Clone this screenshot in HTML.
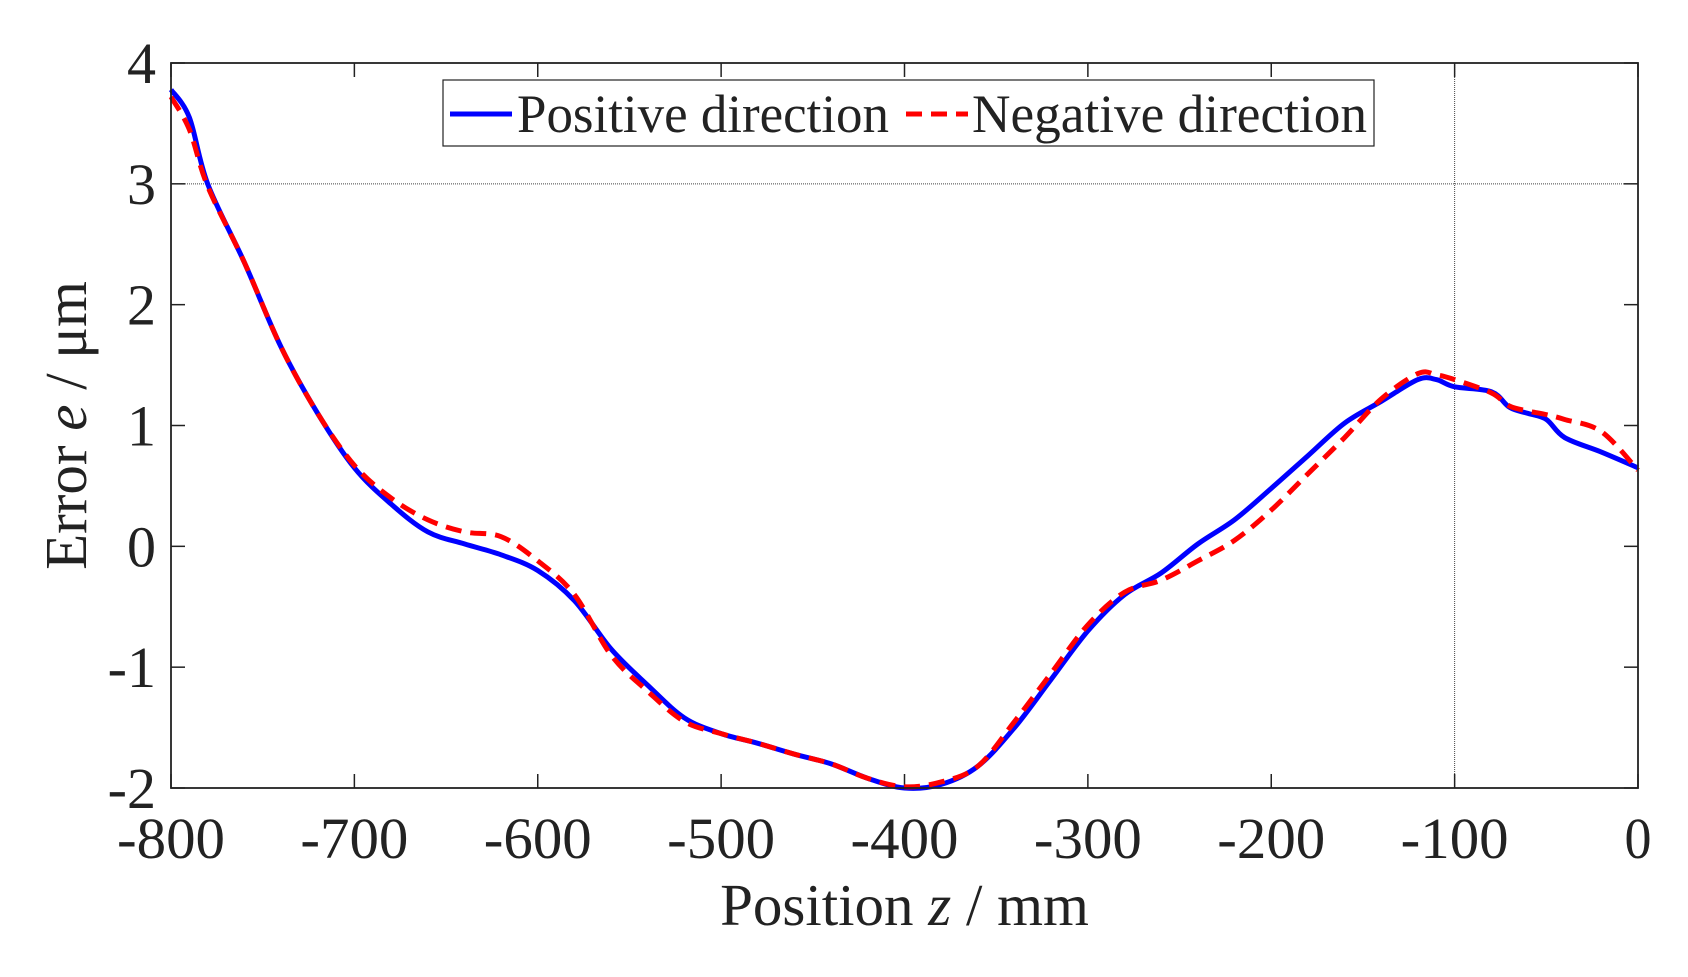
<!DOCTYPE html>
<html><head><meta charset="utf-8"><style>
body{margin:0;background:#fff;}
svg text{font-family:"Liberation Serif",serif;fill:#222;}
</style></head><body>
<svg id="chart" width="1688" height="972" viewBox="0 0 1688 972" xmlns="http://www.w3.org/2000/svg">
<g id="plot"></g>
</svg>
<script>
const xs = [-800,-790,-780,-760,-740,-720,-700,-680,-660,-640,-620,-600,-580,-560,-540,-520,-500,-480,-460,-440,-420,-400,-380,-360,-340,-320,-300,-280,-260,-240,-220,-200,-180,-160,-140,-120,-110,-100,-80,-70,-60,-50,-40,-20,0];
const positive = [3.78,3.55,3.0,2.35,1.65,1.1,0.65,0.35,0.12,0.02,-0.07,-0.2,-0.45,-0.85,-1.15,-1.42,-1.55,-1.63,-1.72,-1.8,-1.92,-2.0,-1.97,-1.82,-1.5,-1.1,-0.7,-0.4,-0.22,0.02,0.22,0.48,0.75,1.02,1.2,1.38,1.38,1.32,1.28,1.15,1.1,1.05,0.9,0.78,0.65];
const negative = [3.72,3.45,2.98,2.35,1.65,1.1,0.67,0.4,0.22,0.12,0.08,-0.12,-0.4,-0.9,-1.2,-1.45,-1.55,-1.63,-1.72,-1.8,-1.92,-1.99,-1.95,-1.82,-1.45,-1.05,-0.65,-0.38,-0.28,-0.12,0.05,0.3,0.6,0.9,1.22,1.43,1.42,1.38,1.27,1.16,1.12,1.09,1.05,0.95,0.63];
const xTicks = [-800,-700,-600,-500,-400,-300,-200,-100,0];
const yTicks = [-2,-1,0,1,2,3,4];
const L=171,R=1638,T=63,B=788;
const xMin=-800,xMax=0,yMin=-2,yMax=4;
const sx=v=>L+(v-xMin)/(xMax-xMin)*(R-L);
const sy=v=>B-(v-yMin)/(yMax-yMin)*(B-T);
const NS='http://www.w3.org/2000/svg';
const g=document.getElementById('plot');
function mk(tag,attrs,parent){const e=document.createElementNS(NS,tag);for(const k in attrs)e.setAttribute(k,attrs[k]);(parent||g).appendChild(e);return e;}
let gl=mk('line',{x1:L,x2:R,y1:sy(3),y2:sy(3),stroke:'#444','stroke-width':1,'stroke-dasharray':'1,1'});


let gv=mk('line',{x1:sx(-100),x2:sx(-100),y1:T,y2:B,stroke:'#444','stroke-width':1,'stroke-dasharray':'1,1'});


xTicks.forEach(v=>{
  const x=sx(v);
  mk('line',{x1:x,x2:x,y1:B,y2:B-14,stroke:'#222','stroke-width':1.5});
  mk('line',{x1:x,x2:x,y1:T,y2:T+14,stroke:'#222','stroke-width':1.5});
  const t=mk('text',{x:x,y:B+70,'text-anchor':'middle','font-size':58,'textLength':(String(v).length*27),'lengthAdjust':'spacingAndGlyphs'});
  t.textContent=v;
  
  
});
yTicks.forEach(v=>{
  const y=sy(v);
  mk('line',{x1:L,x2:L+14,y1:y,y2:y,stroke:'#222','stroke-width':1.5});
  mk('line',{x1:R,x2:R-14,y1:y,y2:y,stroke:'#222','stroke-width':1.5});
  const t=mk('text',{x:L-15,y:y+20,'text-anchor':'end','font-size':58});
  t.textContent=v;
  
  
});
function smooth(ys){
  const p=xs.map((x,i)=>[sx(x),sy(ys[i])]);
  let d='M'+p[0][0]+','+p[0][1];
  for(let i=0;i<p.length-1;i++){
    const p0=p[Math.max(0,i-1)],p1=p[i],p2=p[i+1],p3=p[Math.min(p.length-1,i+2)];
    const c1=[p1[0]+(p2[0]-p0[0])/6,p1[1]+(p2[1]-p0[1])/6];
    const c2=[p2[0]-(p3[0]-p1[0])/6,p2[1]-(p3[1]-p1[1])/6];
    d+=' C'+c1+' '+c2+' '+p2;
  }
  return d;
}
const pl=mk('path',{d:smooth(positive),fill:'none',stroke:'#0000ff','stroke-width':5});


const nl=mk('path',{d:smooth(negative),fill:'none',stroke:'#ff0000','stroke-width':5,'stroke-dasharray':'16,9'});


const fr=mk('rect',{x:L,y:T,width:R-L,height:B-T,fill:'none',stroke:'#222','stroke-width':1.8});


const lg=mk('g',{});


mk('rect',{x:443,y:80,width:931,height:66,fill:'#fff',stroke:'#222','stroke-width':1.2},lg);
mk('line',{x1:450,x2:512,y1:114,y2:114,stroke:'#0000ff','stroke-width':5},lg);
const t1=mk('text',{x:517,y:132,'font-size':54,'textLength':372,'lengthAdjust':'spacingAndGlyphs'},lg);t1.textContent='Positive direction';


mk('line',{x1:906,x2:968,y1:114,y2:114,stroke:'#ff0000','stroke-width':5,'stroke-dasharray':'16,9'},lg);
const t2=mk('text',{x:972,y:132,'font-size':54,'textLength':395,'lengthAdjust':'spacingAndGlyphs'},lg);t2.textContent='Negative direction';


const xt=mk('text',{x:(L+R)/2,y:925,'text-anchor':'middle','font-size':59});
xt.innerHTML='Position <tspan font-style="italic">z</tspan> / mm';


const yt=mk('text',{x:0,y:0,'text-anchor':'middle','font-size':59,transform:'translate(86,'+(T+B)/2+') rotate(-90)'});
yt.innerHTML='Error <tspan font-style="italic">e</tspan> / μm';


</script>
</body></html>
